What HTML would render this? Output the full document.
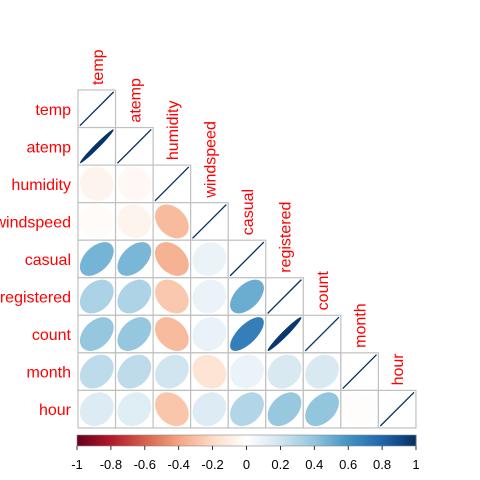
<!DOCTYPE html>
<html><head><meta charset="utf-8"><style>
html,body{margin:0;padding:0;background:#fff;}
svg{display:block;font-family:"Liberation Sans",Arial,sans-serif;}
</style></head><body>
<svg id="chart" width="480" height="480" viewBox="0 0 480 480"></svg>
<script>
const variables = ["temp","atemp","humidity","windspeed","casual","registered","count","month","hour"];
const corrRows = [
  [1],
  [0.98,1],
  [-0.06,-0.04,1],
  [-0.02,-0.06,-0.32,1],
  [0.47,0.46,-0.35,0.09,1],
  [0.32,0.31,-0.27,0.09,0.50,1],
  [0.39,0.39,-0.32,0.10,0.69,0.97,1],
  [0.26,0.26,0.20,-0.15,0.09,0.17,0.17,1],
  [0.15,0.14,-0.28,0.15,0.30,0.38,0.40,-0.01,1]
];
const tickLabels = [-1,-0.8,-0.6,-0.4,-0.2,0,0.2,0.4,0.6,0.8,1];
const paletteColors = ["#67001F","#B2182B","#D6604D","#F4A582","#FDDBC7","#FFFFFF","#D1E5F0","#92C5DE","#4393C3","#2166AC","#053061"];

const NS="http://www.w3.org/2000/svg";
const svg=document.getElementById('chart');
const X0=78, Y0=90, CW=37.55, CH=37.55;
const BX0=77, BX1=416, BY=435, BH=11;
function xCell(j){return X0+j*CW;}
function yCell(i){return Y0+i*CH;}
function xBar(v){return BX0+(v+1)/2*(BX1-BX0);}
function hex(c){return [1,3,5].map(k=>parseInt(c.substr(k,2),16));}
function colorFor(r){
  const p=(r+1)/2*(paletteColors.length-1);
  const k=Math.min(Math.floor(p),paletteColors.length-2), f=p-k;
  const a=hex(paletteColors[k]), b=hex(paletteColors[k+1]);
  return 'rgb('+a.map((v,i)=>Math.round(v+(b[i]-v)*f)).join(',')+')';
}
function mk(tag,attrs){const e=document.createElementNS(NS,tag);for(const k in attrs)e.setAttribute(k,attrs[k]);svg.appendChild(e);return e;}

// cells
corrRows.forEach((row,i)=>{
  row.forEach((r,j)=>{
    const x=xCell(j), y=yCell(i);
    const rect=mk('rect',{x:x,y:y,width:CW,height:CH,fill:'#fff',stroke:'#c0c0c0','stroke-width':1.2});
    
    
    const s=0.45*CW, cx=x+CW/2, cy=y+CH/2;
    const rx=s*Math.sqrt(1+r), ry=s*Math.sqrt(Math.max(1-r,0));
    let el;
    if(ry<0.6){
      el=mk('line',{x1:cx-rx/Math.SQRT2,y1:cy+rx/Math.SQRT2,x2:cx+rx/Math.SQRT2,y2:cy-rx/Math.SQRT2,stroke:colorFor(r),'stroke-width':1.3});
    } else {
      el=mk('ellipse',{cx:cx,cy:cy,rx:rx,ry:ry,fill:colorFor(r),transform:'rotate(-45 '+cx+' '+cy+')'});
    }
    
    
  });
});
// labels
variables.forEach((v,i)=>{
  const t=mk('text',{x:71,y:yCell(i)+CH/2+6,'text-anchor':'end','font-size':16,fill:'#ff0000'});
  t.textContent=v;
  
  
  const cx=xCell(i)+CW/2+6, by=yCell(i)-5;
  const c=mk('text',{x:cx,y:by,'text-anchor':'start','font-size':16,fill:'#ff0000',transform:'rotate(-90 '+cx+' '+by+')'});
  c.textContent=v;
  
  
});
// colorbar
const N=200;
for(let k=0;k<N;k++){
  const v=-1+2*(k+0.5)/N;
  const r=mk('rect',{x:xBar(-1+2*k/N),y:BY,width:(BX1-BX0)/N+0.5,height:BH,fill:colorFor(v)});
  
  
}
const bb=mk('rect',{x:BX0,y:BY,width:BX1-BX0,height:BH,fill:'none',stroke:'#888','stroke-width':0.6});


tickLabels.forEach(v=>{
  const ln=mk('line',{x1:xBar(v),x2:xBar(v),y1:BY+BH,y2:BY+BH+4,stroke:'#000','stroke-width':0.8});
  
  
  const t=mk('text',{x:xBar(v),y:469,'text-anchor':'middle','font-size':13,fill:'#000'});
  t.textContent=String(v);
  
  
});
</script>
</body></html>
